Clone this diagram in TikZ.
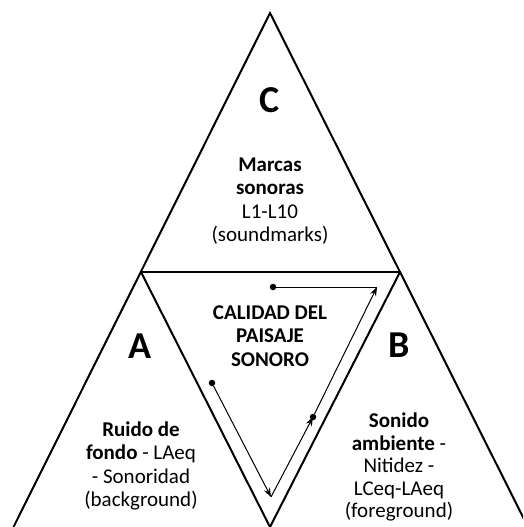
\documentclass[tikz,border=0pt]{standalone}
\usepackage{fontspec}
\setmainfont{Carlito}
\usetikzlibrary{arrows.meta}
\begin{document}
\begin{tikzpicture}[x=1pt,y=-1pt,
  edge/.style={line width=2pt},
  flow/.style={line width=1pt,-{Stealth[length=9pt,width=6.5pt]}},
  dot/.style={circle,fill,inner sep=0pt,minimum size=6.5pt},
  letter/.style={font=\fontsize{38}{38}\selectfont\bfseries},
  txt/.style={align=center,font=\fontsize{21}{23.5}\selectfont}]
  \useasboundingbox (0,0) rectangle (523,527);
  \clip (0,0) rectangle (523,527);
  % corners of the triangles
  \coordinate (apex) at (270,13);
  \coordinate (jl) at (141,272);
  \coordinate (jr) at (400,272);
  \coordinate (bl) at (13.5,527);
  \coordinate (br) at (528,527);
  \coordinate (bm) at (270,527);
  \draw[edge] (bl) -- (apex) -- (br);
  \draw[edge] (jl) -- (jr);
  \draw[edge] (jl) -- (bm) -- (jr);
  % letters
  \node[letter] (c) at (270,100) {C};
  \node[letter] (a) at (140,346) {A};
  \node[letter] (b) at (399,345) {B};
  % texts
  \node[txt] (marcas) at (270,201) {\textbf{Marcas}\\\textbf{sonoras}\\L1-L10\\(soundmarks)};
  \node[txt] (calidad) at (270,336) {\textbf{CALIDAD DEL}\\\textbf{PAISAJE}\\\textbf{SONORO}};
  \node[txt] (ruido) at (141,466) {\textbf{Ruido de}\\\textbf{fondo} - LAeq\\- Sonoridad\\(background)};
  \node[txt,font=\fontsize{21}{22.5}\selectfont] (sonido) at (399,467) {\textbf{Sonido}\\\textbf{ambiente} -\\Nitidez -\\LCeq-LAeq\\(foreground)};
  % arrows
  \node[dot] (p1) at (212,383) {};
  \node[dot] (q) at (313,417) {};
  \node[dot] (t) at (273,287) {};
  \coordinate (v1) at (271,497);
  \coordinate (corner) at (377,287);
  \draw[flow] (p1) -- (v1);
  \draw[flow] (v1) -- (q.center);
  \draw[flow] (q) -- (corner);
  \draw[line width=1pt] (t) -- (corner);
\end{tikzpicture}
\end{document}
